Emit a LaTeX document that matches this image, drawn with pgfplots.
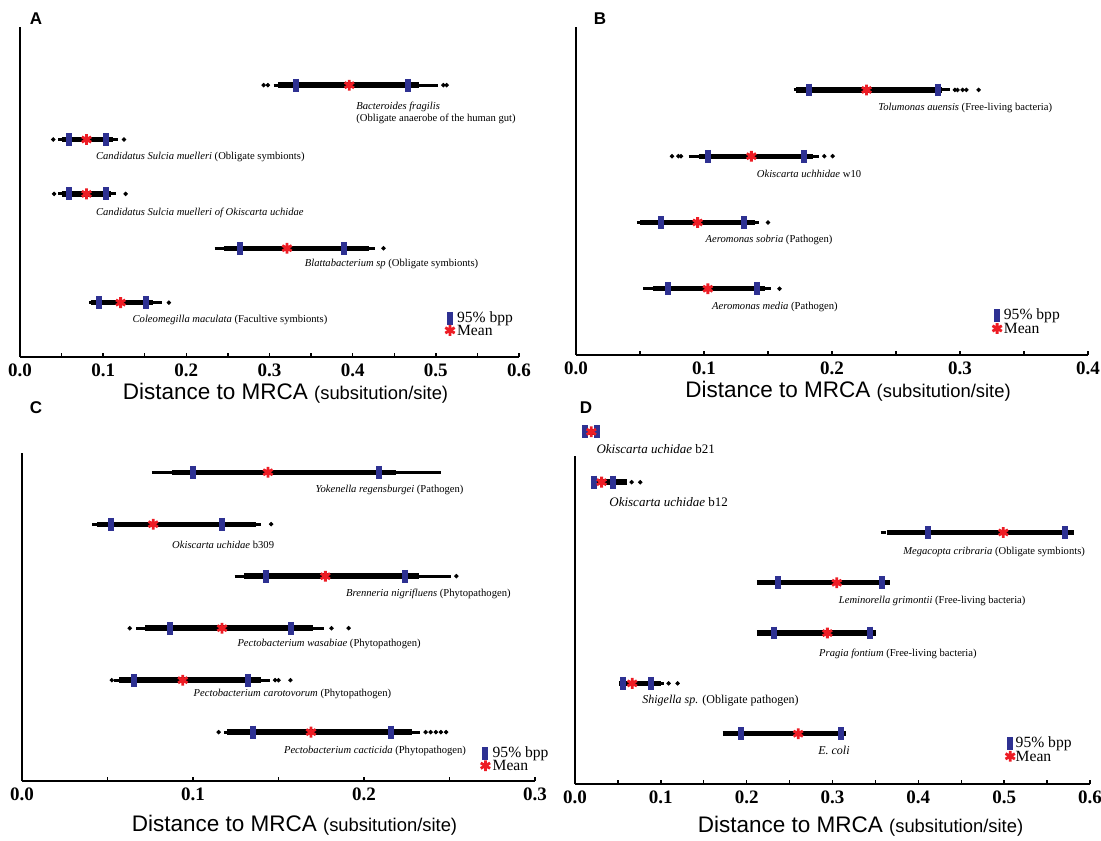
\documentclass[border=0pt]{standalone}
\usepackage{fontspec}
\setmainfont{Liberation Serif}
\setsansfont{Liberation Sans}
\usepackage{pgfplots}
\pgfplotsset{compat=1.18}
\definecolor{bppblue}{RGB}{46,49,146}
\definecolor{meanred}{RGB}{237,28,36}

\pgfplotsset{
  mrca/.style={
    scale only axis, anchor=south west, clip=false,
    axis x line=bottom, axis y line=left,
    axis line style={-, line width=0.9pt},
    ytick=\empty, ymin=0, xmin=0,
    minor x tick num=1, tick align=inside,
    major tick length=2.2pt, minor tick length=2.2pt,
    tick style={line width=0.7pt, black},
    xticklabel style={font=\bfseries\fontsize{9.5}{10}\selectfont},
    xlabel={\fontsize{11.25}{13}\selectfont\sffamily Distance to MRCA {\fontsize{9.2}{11}\selectfont (subsitution/site)}},
    x label style={at={(axis description cs:0.5,0)}, anchor=center, yshift=-18pt, xshift=8pt},
  },
  core/.style={black, line width=2.7pt, unbounded coords=jump},
  tail/.style={black, line width=1.5pt, unbounded coords=jump},
  dots/.style={only marks, mark=*, mark size=0.9pt, black},
  bpp/.style={only marks, mark=|, mark size=3.2pt, bppblue, mark options={line width=3pt}},
  mn/.style={only marks, mark=asterisk, mark size=2.7pt, meanred, mark options={line width=1.4pt}},
}
\tikzset{
  lab/.style={anchor=west, inner sep=0pt, font=\fontsize{5.3}{6}\selectfont},
  leg/.style={anchor=west, inner sep=0pt, font=\fontsize{7.8}{8}\selectfont},
}

\begin{document}
\begin{tikzpicture}
\path[use as bounding box] (0,0) rectangle (550.5pt,420pt);

% panel A
\begin{axis}[mrca, at={(10pt,241.5pt)}, width=249.5pt, height=165pt,
  xmax=0.6, ymax=6.07, axis line style={line width=1.3pt},
  xtick={0,0.1,0.2,0.3,0.4,0.5,0.6},
  xticklabels={0.0,0.1,0.2,0.3,0.4,0.5,0.6}]
\addplot[tail] coordinates {(0.305,5) (0.502,5) (nan,nan) (0.046,4) (0.118,4) (nan,nan) (0.046,3) (0.116,3) (nan,nan) (0.234,2) (0.427,2) (nan,nan) (0.083,1) (0.171,1)};
\addplot[core] coordinates {(0.31,5) (0.48,5) (nan,nan) (0.05,4) (0.112,4) (nan,nan) (0.05,3) (0.11,3) (nan,nan) (0.245,2) (0.42,2) (nan,nan) (0.085,1) (0.16,1)};
\addplot[dots] coordinates {(0.293,5) (0.298,5) (0.509,5) (0.513,5) (0.040,4) (0.125,4) (0.041,3) (0.127,3) (0.437,2) (0.179,1)};
\addplot[bpp] coordinates {(0.332,5) (0.466,5) (0.059,4) (0.104,4) (0.059,3) (0.104,3) (0.265,2) (0.389,2) (0.095,1) (0.152,1) (0.517,0.71)};
\addplot[mn] coordinates {(0.396,5) (0.080,4) (0.080,3) (0.321,2) (0.121,1) (0.517,0.49)};
\node[lab, anchor=north west, align=left] at (axis cs:0.404,4.69) {\textit{Bacteroides fragilis}\\(Obligate anaerobe of the human gut)};
\node[lab] at (axis cs:0.091,3.68) {\textit{Candidatus Sulcia muelleri} (Obligate symbionts)};
\node[lab] at (axis cs:0.091,2.65) {\textit{Candidatus Sulcia muelleri of Okiscarta uchidae}};
\node[lab] at (axis cs:0.342,1.71) {\textit{Blattabacterium sp} (Obligate symbionts)};
\node[lab] at (axis cs:0.135,0.69) {\textit{Coleomegilla maculata} (Facultive symbionts)};
\node[leg] at (axis cs:0.525,0.71) {95\% bpp};
\node[leg] at (axis cs:0.525,0.49) {Mean};
\end{axis}

% panel B
\begin{axis}[mrca, at={(288pt,242.5pt)}, width=256pt, height=164pt,
  xmax=0.4, ymax=4.95,
  xtick={0,0.1,0.2,0.3,0.4},
  xticklabels={0.0,0.1,0.2,0.3,0.4}]
\addplot[tail] coordinates {(0.170,4) (0.292,4) (nan,nan) (0.088,3) (0.19,3) (nan,nan) (0.0475,2) (0.143,2) (nan,nan) (0.0524,1) (0.152,1)};
\addplot[core] coordinates {(0.172,4) (0.286,4) (nan,nan) (0.096,3) (0.185,3) (nan,nan) (0.05,2) (0.14,2) (nan,nan) (0.06,1) (0.148,1)};
\addplot[dots] coordinates {(0.296,4) (0.298,4) (0.302,4) (0.305,4) (0.3145,4) (0.075,3) (0.080,3) (0.082,3) (0.194,3) (0.2005,3) (0.150,2) (0.159,1)};
\addplot[bpp] coordinates {(0.182,4) (0.283,4) (0.103,3) (0.178,3) (0.0665,2) (0.131,2) (0.072,1) (0.1415,1) (0.329,0.59)};
\addplot[mn] coordinates {(0.227,4) (0.137,3) (0.095,2) (0.103,1) (0.329,0.40)};
\node[lab] at (axis cs:0.236,3.73) {\textit{Tolumonas auensis} (Free-living bacteria)};
\node[lab] at (axis cs:0.141,2.73) {\textit{Okiscarta uchhidae} w10};
\node[lab] at (axis cs:0.101,1.74) {\textit{Aeromonas sobria} (Pathogen)};
\node[lab] at (axis cs:0.106,0.73) {\textit{Aeromonas media} (Pathogen)};
\node[leg] at (axis cs:0.334,0.59) {95\% bpp};
\node[leg] at (axis cs:0.334,0.40) {Mean};
\end{axis}

% panel C
\begin{axis}[mrca, at={(11pt,29.5pt)}, width=256.5pt, height=164pt,
  xmax=0.3, ymin=0.06, ymax=6.37,
  xtick={0,0.1,0.2,0.3},
  xticklabels={0.0,0.1,0.2,0.3},
  x label style={yshift=-4pt}]
\addplot[tail] coordinates {(0.076,6) (0.245,6) (nan,nan) (0.041,5) (0.1396,5) (nan,nan) (0.1243,4) (0.251,4) (nan,nan) (0.0667,3) (0.1767,3) (nan,nan) (0.054,2) (0.145,2) (nan,nan) (0.118,1) (0.233,1)};
\addplot[core] coordinates {(0.088,6) (0.219,6) (nan,nan) (0.044,5) (0.137,5) (nan,nan) (0.13,4) (0.232,4) (nan,nan) (0.072,3) (0.170,3) (nan,nan) (0.057,2) (0.140,2) (nan,nan) (0.12,1) (0.228,1)};
\addplot[dots] coordinates {(0.1457,5) (0.254,4) (0.063,3) (0.181,3) (0.191,3) (0.0525,2) (0.148,2) (0.150,2) (0.157,2) (0.115,1) (0.236,1) (0.239,1) (0.242,1) (0.245,1) (0.248,1)};
\addplot[bpp] coordinates {(0.1002,6) (0.209,6) (0.052,5) (0.117,5) (0.1428,4) (0.224,4) (0.0868,3) (0.1574,3) (0.0654,2) (0.132,2) (0.1348,1) (0.216,1) (0.271,0.59)};
\addplot[mn] coordinates {(0.1438,6) (0.0767,5) (0.1774,4) (0.117,3) (0.094,2) (0.169,1) (0.271,0.355)};
\node[lab] at (axis cs:0.1715,5.65) {\textit{Yokenella regensburgei} (Pathogen)};
\node[lab] at (axis cs:0.0876,4.6) {\textit{Okiscarta uchidae} b309};
\node[lab] at (axis cs:0.1893,3.65) {\textit{Brenneria nigrifluens} (Phytopathogen)};
\node[lab] at (axis cs:0.1258,2.69) {\textit{Pectobacterium wasabiae} (Phytopathogen)};
\node[lab] at (axis cs:0.1002,1.74) {\textit{Pectobacterium carotovorum} (Phytopathogen)};
\node[lab] at (axis cs:0.153,0.63) {\textit{Pectobacterium cacticida} (Phytopathogen)};
\node[leg] at (axis cs:0.275,0.59) {95\% bpp};
\node[leg] at (axis cs:0.275,0.355) {Mean};
\end{axis}

% panel D
\begin{axis}[mrca, at={(287.5pt,28pt)}, width=257.5pt, height=164pt,
  xmax=0.6, ymax=6.52,
  xtick={0,0.1,0.2,0.3,0.4,0.5,0.6},
  xticklabels={0.0,0.1,0.2,0.3,0.4,0.5,0.6},
  x label style={yshift=-3pt, xshift=6pt}]
\addplot[tail] coordinates {(0.356,5) (0.362,5) (nan,nan) (0.0517,2) (0.104,2)};
\addplot[core] coordinates {(0.010,7) (0.028,7) (nan,nan) (0.022,6) (0.060,6) (nan,nan) (0.364,5) (0.581,5) (nan,nan) (0.212,4) (0.3666,4) (nan,nan) (0.212,3) (0.351,3) (nan,nan) (0.0517,2) (0.100,2) (nan,nan) (0.172,1) (0.316,1)};
\addplot[dots] coordinates {(0.066,6) (0.076,6) (0.109,2) (0.1195,2)};
\addplot[bpp] coordinates {(0.012,7) (0.0255,7) (0.0226,6) (0.044,6) (0.411,5) (0.571,5) (0.236,4) (0.358,4) (0.232,3) (0.344,3) (0.0557,2) (0.088,2) (0.193,1) (0.310,1) (0.507,0.80)};
\addplot[mn] coordinates {(0.019,7) (0.031,6) (0.499,5) (0.305,4) (0.294,3) (0.0666,2) (0.260,1) (0.507,0.55)};
\node[lab, font=\fontsize{6.5}{7}\selectfont] at (axis cs:0.0246,6.65) {\textit{Okiscarta uchidae} b21};
\node[lab, font=\fontsize{6.5}{7}\selectfont] at (axis cs:0.0396,5.61) {\textit{Okiscarta uchidae} b12};
\node[lab] at (axis cs:0.382,4.61) {\textit{Megacopta cribraria} (Obligate symbionts)};
\node[lab] at (axis cs:0.307,3.63) {\textit{Leminorella grimontii} (Free-living bacteria)};
\node[lab] at (axis cs:0.284,2.59) {\textit{Pragia fontium} (Free-living bacteria)};
\node[lab, font=\fontsize{6}{7}\selectfont] at (axis cs:0.078,1.66) {\textit{Shigella sp.} (Obligate pathogen)};
\node[lab, font=\fontsize{6}{7}\selectfont] at (axis cs:0.283,0.67) {\textit{E. coli}};
\node[leg] at (axis cs:0.513,0.80) {95\% bpp};
\node[leg] at (axis cs:0.513,0.55) {Mean};
\end{axis}

\node[font=\sffamily\bfseries\fontsize{8.5}{10}\selectfont] at (18pt,410.5pt) {A};
\node[font=\sffamily\bfseries\fontsize{8.5}{10}\selectfont] at (300pt,410.5pt) {B};
\node[font=\sffamily\bfseries\fontsize{8.5}{10}\selectfont] at (18pt,216pt) {C};
\node[font=\sffamily\bfseries\fontsize{8.5}{10}\selectfont] at (293pt,216pt) {D};
\end{tikzpicture}
\end{document}
